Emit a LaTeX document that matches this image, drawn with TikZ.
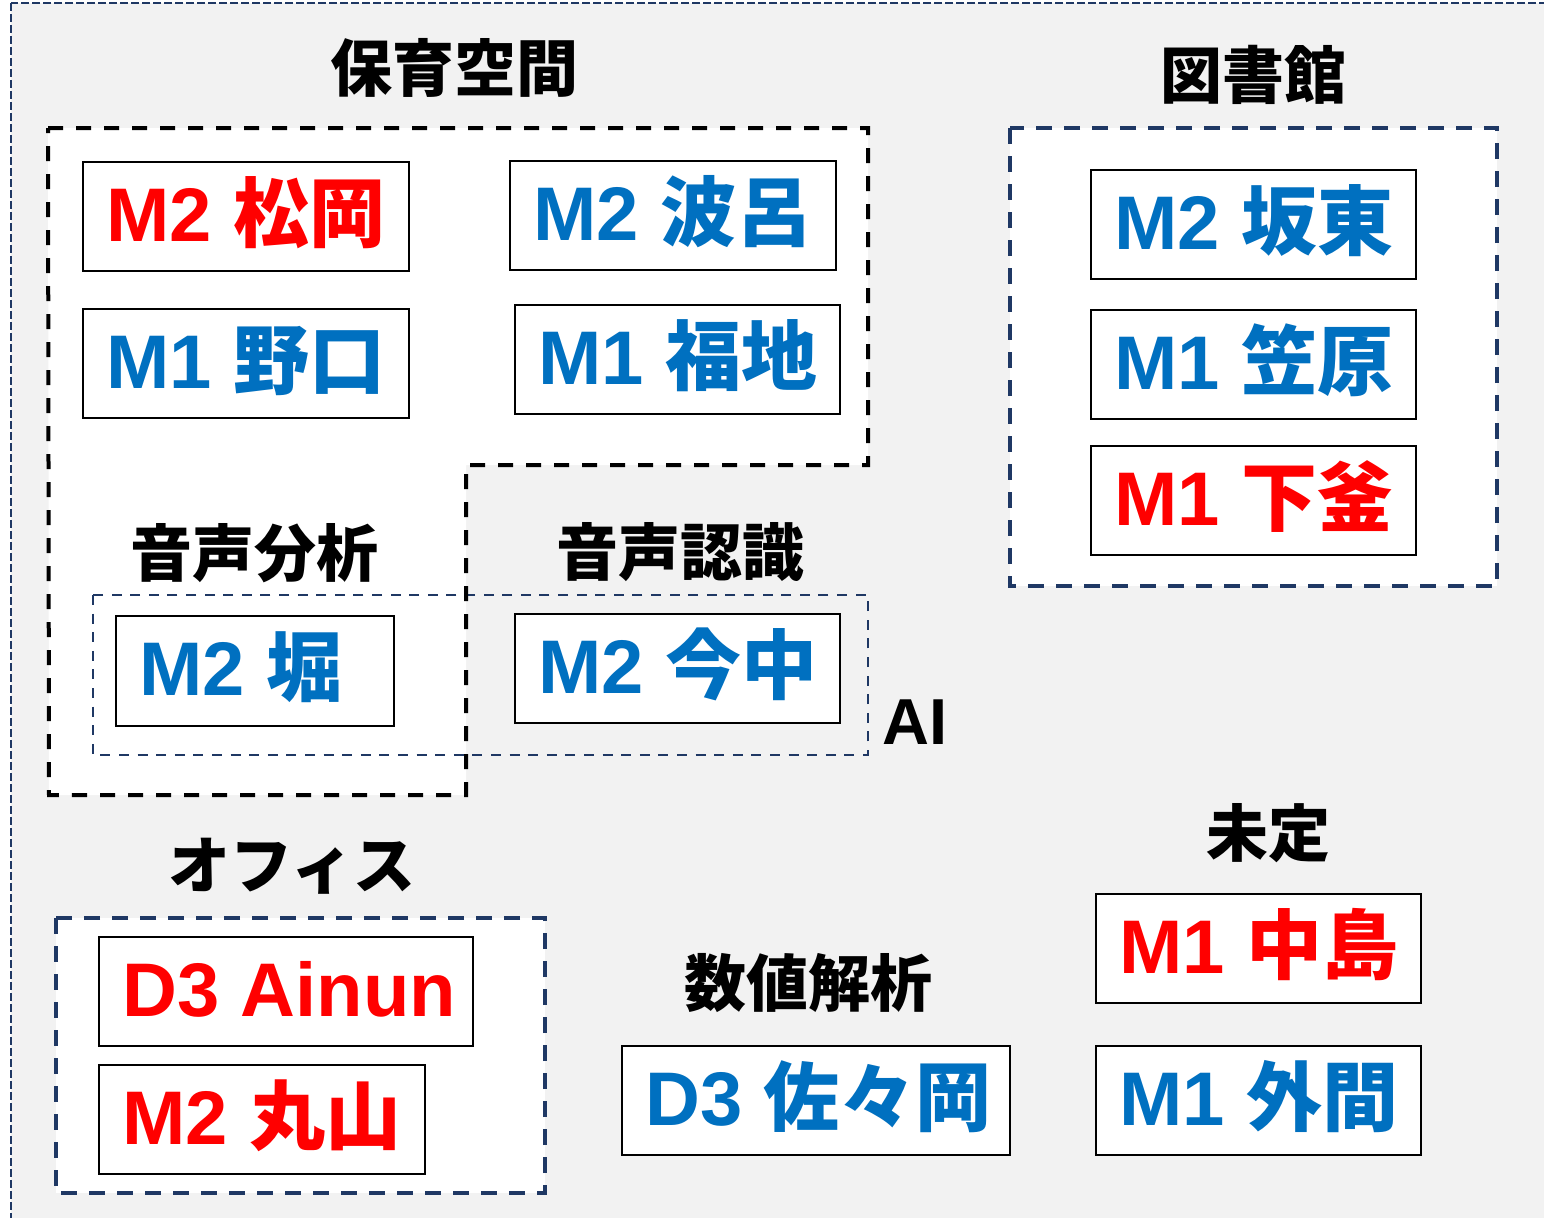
\documentclass[tikz,border=0pt]{standalone}
\usepackage{fontspec}
\setmainfont{Liberation Sans}
\newfontfamily\jp{Noto Sans CJK JP}
\usetikzlibrary{fit}
\definecolor{navy}{HTML}{1F3864}
\definecolor{bgray}{HTML}{F2F2F2}
\definecolor{pred}{HTML}{FF0000}
\definecolor{pblue}{HTML}{0070C0}
\tikzset{
  pbox/.style={draw=black, line width=0.9pt, fill=white, inner sep=0pt},
  ptext/.style={anchor=base west, inner sep=0pt, font=\fontsize{38pt}{46pt}\selectfont\bfseries},
  lbl/.style={inner sep=0pt, font=\jp\fontsize{31pt}{37pt}\selectfont\bfseries},
  blackdash/.style={draw=black, line width=2pt, dash pattern=on 7.5pt off 6.5pt},
  navydash/.style={draw=navy, line width=1.75pt, dash pattern=on 8pt off 6pt},
  thindash/.style={draw=navy, line width=1.1pt, dash pattern=on 5pt off 4.3pt},
  framedash/.style={draw=navy, line width=1.4pt, dash pattern=on 4pt off 1.5pt},
}
\newcommand\person[7]{%
  \node[pbox, fit={(#2,#3) (#4,#5)}] (#1) {};
  \node[ptext, text=#6] (#1t) at (#2+23,#3+79) {#7};}
\begin{document}
\begin{tikzpicture}[x=0.5pt, y=-0.5pt]
\useasboundingbox (0,0) rectangle (1544,1217);
\clip (0,0) rectangle (1544,1217);
\fill[white] (0,0) rectangle (1544,1217);
% outer frame
\fill[bgray] (11,3) rectangle (1560,1235);
\draw[framedash] (11,3) rectangle (1560,1235);
% white regions
\fill[white] (48,128) -- (868,128) -- (868,465) -- (466,465) -- (466,795) -- (49,795) -- cycle;
\fill[white] (1010,128) rectangle (1497,586);
\fill[white] (56,918) rectangle (545,1193);
% AI region
\draw[thindash] (93,595) rectangle (868,755);
% region outlines
\draw[blackdash] (48,128) -- (868,128) -- (868,465) -- (466,465) -- (466,795) -- (49,795) -- cycle;
\draw[navydash] (1010,128) rectangle (1497,586);
\draw[navydash] (56,918) rectangle (545,1193);
% labels
\node[lbl] (l1) at (454,68) {保育空間};
\node[lbl] (l2) at (1253,75) {図書館};
\node[lbl] (l3) at (254,553) {音声分析};
\node[lbl] (l4) at (680,552) {音声認識};
\node[inner sep=0pt, font=\fontsize{32.5pt}{38pt}\selectfont\bfseries] (l5) at (915,722) {AI};
\node[lbl] (l6) at (292,866) {オフィス};
\node[lbl] (l7) at (808,983) {数値解析};
\node[lbl] (l8) at (1268,833) {未定};
% people
\person{p1}{83}{162}{409}{271}{pred}{M2 {\jp 松岡}}
\person{p2}{510}{161}{836}{270}{pblue}{M2 {\jp 波呂}}
\person{p3}{83}{309}{409}{418}{pblue}{M1 {\jp 野口}}
\person{p4}{515}{305}{840}{414}{pblue}{M1 {\jp 福地}}
\person{p5}{116}{616}{394}{726}{pblue}{M2 {\jp 堀}}
\person{p6}{515}{614}{840}{723}{pblue}{M2 {\jp 今中}}
\person{p7}{1091}{170}{1416}{279}{pblue}{M2 {\jp 坂東}}
\person{p8}{1091}{310}{1416}{419}{pblue}{M1 {\jp 笠原}}
\person{p9}{1091}{446}{1416}{555}{pred}{M1 {\jp 下釜}}
\person{p10}{99}{937}{473}{1046}{pred}{D3 Ainun}
\person{p11}{99}{1065}{425}{1174}{pred}{M2 {\jp 丸山}}
\person{p12}{622}{1046}{1010}{1155}{pblue}{D3 {\jp 佐々岡}}
\person{p13}{1096}{894}{1421}{1003}{pred}{M1 {\jp 中島}}
\person{p14}{1096}{1046}{1421}{1155}{pblue}{M1 {\jp 外間}}
\end{tikzpicture}
\end{document}
